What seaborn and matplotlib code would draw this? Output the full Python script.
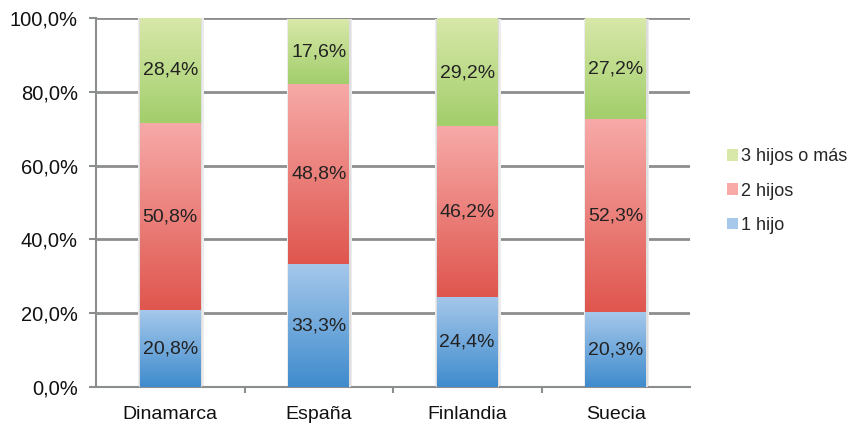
import numpy as np
import pandas as pd
import matplotlib
matplotlib.use("Agg")
import matplotlib.pyplot as plt
import seaborn as sns
from matplotlib.colors import LinearSegmentedColormap
from matplotlib.patches import Patch
from matplotlib.ticker import FixedLocator, FuncFormatter

# datos (porcentaje por numero de hijos)
paises = ["Dinamarca", "España", "Finlandia", "Suecia"]
un_hijo = [20.8, 33.3, 24.4, 20.3]
dos_hijos = [50.8, 48.8, 46.2, 52.3]
tres_mas = [28.4, 17.6, 29.2, 27.2]
series_nombres = ["1 hijo", "2 hijos", "3 hijos o más"]

# colores: (abajo oscuro, arriba claro)
colores = {
    "1 hijo": ("#3f8bcd", "#a5c8eb"),
    "2 hijos": ("#df564e", "#f7aaa8"),
    "3 hijos o más": ("#a2ce6b", "#d8e8a9"),
}

sns.set_style("white")
plt.rcParams["font.family"] = ["Liberation Sans", "DejaVu Sans"]

fig = plt.figure(figsize=(8.6, 4.28), dpi=100)
ax = fig.add_axes([96 / 860, 41 / 428, 594 / 860, 369 / 428])

df = pd.DataFrame({"pais": paises, "1 hijo": un_hijo, "2 hijos": dos_hijos,
                   "3 hijos o más": tres_mas})

ancho = 0.41
base = np.zeros(len(paises))
segmentos = []
for nombre in series_nombres:
    vals = df[nombre].values
    antes = len(ax.patches)
    sns.barplot(data=df, x="pais", y=nombre, bottom=base, color=colores[nombre][0],
                width=ancho, ax=ax, zorder=3, linewidth=0, saturation=1, errorbar=None)
    for p, v, b in zip(ax.patches[antes:], vals, base):
        segmentos.append((p, nombre, v, b))
    base = base + vals

# sombra suave detras de las barras
for i in range(len(paises)):
    ax.bar(i + 0.006, base[i], bottom=0, width=ancho + 0.03, color="#ececec",
           zorder=2.5, linewidth=0)
    ax.bar(i + 0.003, base[i], bottom=0, width=ancho + 0.015, color="#dedede",
           zorder=2.6, linewidth=0)

# degradado en cada segmento
grad = np.linspace(0, 1, 256).reshape(-1, 1)
for p, nombre, v, b in segmentos:
    cmap = LinearSegmentedColormap.from_list(nombre, colores[nombre])
    x0 = p.get_x()
    w = p.get_width()
    ax.imshow(grad, extent=[x0, x0 + w, b, b + v], origin="lower", cmap=cmap,
              aspect="auto", zorder=3.5, interpolation="bicubic")
    ax.text(x0 + w / 2, b + v / 2, f"{v:.1f}%".replace(".", ","), ha="center",
            va="center", fontsize=14, color="#222222", zorder=5)

ax.set_xlim(-0.5, 3.5)
ax.set_ylim(0, 100)
ax.set_xlabel("")
ax.set_ylabel("")

gris = "#8b8d8f"
ax.yaxis.set_major_locator(FixedLocator([0, 20, 40, 60, 80, 100]))
ax.yaxis.set_major_formatter(FuncFormatter(lambda v, _: f"{v:.1f}%".replace(".", ",")))
ax.grid(axis="y", color=gris, linewidth=2, zorder=1)
ax.set_axisbelow(True)
ax.xaxis.set_minor_locator(FixedLocator([0.5, 1.5, 2.5]))

for s in ["top", "right"]:
    ax.spines[s].set_visible(False)
for s in ["left", "bottom"]:
    ax.spines[s].set_color(gris)
    ax.spines[s].set_linewidth(1.5)

ax.tick_params(axis="y", left=True, length=5, width=1.5, color=gris, labelsize=14.5,
               pad=8, labelcolor="#111111")
ax.tick_params(axis="x", which="major", bottom=False, labelsize=14, pad=10,
               labelcolor="#111111")
ax.tick_params(axis="x", which="minor", bottom=True, length=4, width=1.5, color=gris)

handles = [Patch(facecolor=colores[n][1], edgecolor=colores[n][0], linewidth=0)
           for n in reversed(series_nombres)]
fig.legend(handles, list(reversed(series_nombres)), loc="center left",
           bbox_to_anchor=(727 / 860, 1 - 191 / 428), frameon=False, fontsize=13,
           borderaxespad=0, borderpad=0,
           handlelength=0.6, handleheight=0.6, handletextpad=0.2, labelspacing=0.95)

fig.savefig("out.png", dpi=100)
